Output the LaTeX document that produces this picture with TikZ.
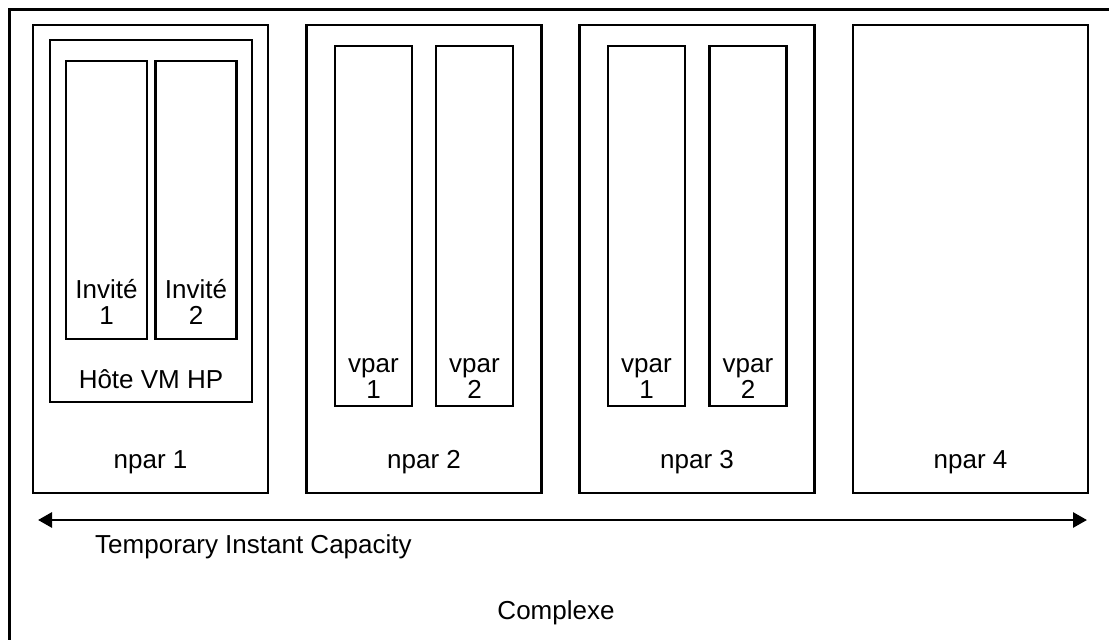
\documentclass[tikz,border=0pt]{standalone}
\usepackage{fontspec}
\setmainfont{Liberation Sans}
\usetikzlibrary{arrows.meta,positioning}
\tikzstyle{every node}=[font=\fontsize{26}{25.5}\selectfont]
\tikzstyle{box}=[draw,rectangle,line width=2.8pt,inner sep=0pt]
\tikzstyle{npar}=[box,minimum width=235pt,minimum height=468pt]
\tikzstyle{guest}=[box,minimum width=81pt,minimum height=278pt]
\tikzstyle{vpar}=[box,minimum width=77pt,minimum height=360pt]
\tikzstyle{tag}=[align=center,inner sep=0pt]

\begin{document}
\begin{tikzpicture}[x=1pt,y=-1pt]
  \clip (0,0) rectangle (1109,640);
  \node[box,anchor=north west,minimum width=1130pt,minimum height=660pt] (cplx) at (8,8) {};

  \node[npar] (np1) at (150.5,259) {};
  \node[npar] (np2) at (424,259) {};
  \node[npar] (np3) at (697,259) {};
  \node[npar] (np4) at (970.5,259) {};

  \node[box,minimum width=202pt,minimum height=362pt] (host) at (151,221) {};
  \node[guest] (g1) at (106.5,200) {};
  \node[guest] (g2) at (196,200) {};
  \node[vpar] (v21) at (373.5,226) {};
  \node[vpar] (v22) at (474.5,226) {};
  \node[vpar] (v31) at (646.5,226) {};
  \node[vpar] (v32) at (748,226) {};

  \node[tag] (tg1) [above=16pt of g1.south] {Invit\'e\\1};
  \node[tag] (tg2) [above=16pt of g2.south] {Invit\'e\\2};
  \node[tag] (thost) [above=15pt of host.south,anchor=base] {H\^ote VM HP};
  \node[tag] (t21) [above=9pt of v21.south] {vpar\\1};
  \node[tag] (t22) [above=9pt of v22.south] {vpar\\2};
  \node[tag] (t31) [above=9pt of v31.south] {vpar\\1};
  \node[tag] (t32) [above=9pt of v32.south] {vpar\\2};
  \node[tag] (tn1) [above=26pt of np1.south,anchor=base] {npar 1};
  \node[tag] (tn2) [above=26pt of np2.south,anchor=base] {npar 2};
  \node[tag] (tn3) [above=26pt of np3.south,anchor=base] {npar 3};
  \node[tag] (tn4) [above=26pt of np4.south,anchor=base] {npar 4};

  % capacity arrow
  \coordinate (capl) at (38,520);
  \coordinate (capr) at (1087,520);
  \draw[line width=2.8pt,{Triangle[length=14pt,width=15pt]}-{Triangle[length=14pt,width=15pt]}] (capl) -- (capr);
  \node[tag,anchor=base west] (tcap) at (95,553) {Temporary Instant Capacity};
  \node[tag,anchor=base] (tcplx) at (556,619) {Complexe};
\end{tikzpicture}
\end{document}
